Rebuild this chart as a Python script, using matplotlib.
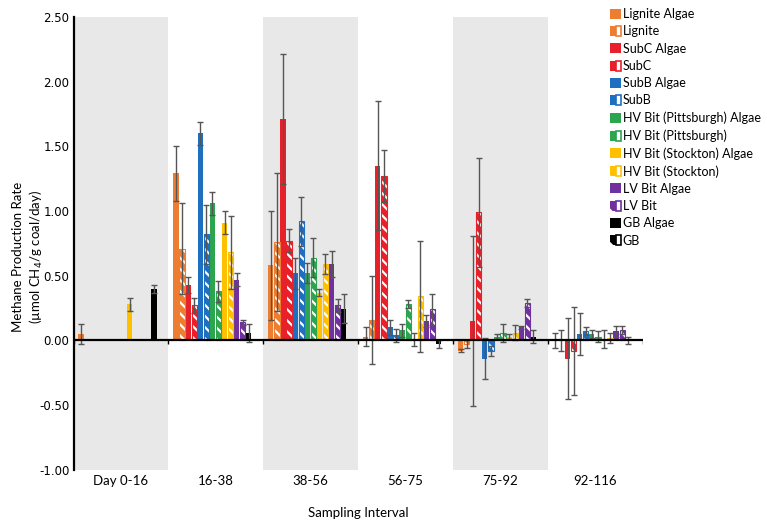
import numpy as np
import matplotlib
matplotlib.use("Agg")
import matplotlib.pyplot as plt
from matplotlib.patches import Patch
from matplotlib.legend_handler import HandlerTuple

plt.rcParams['font.family'] = ['Lato', 'DejaVu Sans']
plt.rcParams['hatch.linewidth'] = 1.6

nan = np.nan

# sampling intervals
intervals = ['Day 0-16', '16-38', '38-56', '56-75', '75-92', '92-116']

# series names (algae amended = solid, unamended = hatched)
series = ['Lignite Algae', 'Lignite', 'SubC Algae', 'SubC', 'SubB Algae', 'SubB',
          'HV Bit (Pittsburgh) Algae', 'HV Bit (Pittsburgh)',
          'HV Bit (Stockton) Algae', 'HV Bit (Stockton)',
          'LV Bit Algae', 'LV Bit', 'GB Algae', 'GB']

# methane production rate (umol CH4 / g coal / day)
lignite_algae = [0.05, 1.29, 0.58, 0.03, -0.08, 0.00]
lignite = [nan, 0.71, 0.76, 0.16, -0.03, 0.00]
subc_algae = [nan, 0.43, 1.71, 1.35, 0.15, -0.14]
subc = [nan, 0.27, 0.77, 1.27, 0.99, -0.08]
subb_algae = [nan, 1.60, 0.52, 0.10, -0.14, 0.05]
subb = [nan, 0.82, 0.92, 0.04, -0.08, 0.07]
hvp_algae = [nan, 1.06, 0.52, 0.08, 0.03, 0.05]
hvp = [nan, 0.38, 0.64, 0.28, 0.06, 0.03]
hvs_algae = [0.28, 0.91, 0.37, 0.01, 0.03, 0.01]
hvs = [nan, 0.68, 0.59, 0.34, 0.06, 0.02]
lv_algae = [nan, 0.47, 0.59, 0.15, 0.10, 0.07]
lv = [nan, 0.14, 0.27, 0.24, 0.29, 0.08]
gb_algae = [0.40, 0.06, 0.245, -0.03, 0.03, 0.00]
gb = [nan, nan, nan, nan, nan, nan]

# error bars
lignite_algae_err = [0.08, 0.21, 0.42, 0.07, 0.01, 0.06]
lignite_err = [nan, 0.35, 0.53, 0.34, 0.03, 0.08]
subc_algae_err = [nan, 0.06, 0.50, 0.50, 0.66, 0.31]
subc_err = [nan, 0.06, 0.09, 0.20, 0.42, 0.34]
subb_algae_err = [nan, 0.09, 0.12, 0.06, 0.16, 0.16]
subb_err = [nan, 0.23, 0.19, 0.05, 0.04, 0.03]
hvp_algae_err = [nan, 0.09, 0.08, 0.05, 0.02, 0.03]
hvp_err = [nan, 0.08, 0.15, 0.03, 0.07, 0.04]
hvs_algae_err = [0.05, 0.09, 0.03, 0.05, 0.02, 0.07]
hvs_err = [nan, 0.28, 0.08, 0.43, 0.06, 0.04]
lv_algae_err = [nan, 0.05, 0.10, 0.05, 0.01, 0.04]
lv_err = [nan, 0.02, 0.05, 0.12, 0.03, 0.03]
gb_algae_err = [0.03, 0.07, 0.11, 0.03, 0.05, 0.03]
gb_err = [nan, nan, nan, nan, nan, nan]

values = [lignite_algae, lignite, subc_algae, subc, subb_algae, subb,
          hvp_algae, hvp, hvs_algae, hvs, lv_algae, lv, gb_algae, gb]
errors = [lignite_algae_err, lignite_err, subc_algae_err, subc_err,
          subb_algae_err, subb_err, hvp_algae_err, hvp_err,
          hvs_algae_err, hvs_err, lv_algae_err, lv_err, gb_algae_err, gb_err]

colors = ['#ED7D31', '#E8202A', '#1F6FC0', '#2DA44E', '#FFC000', '#7030A0', '#000000']

fig = plt.figure(figsize=(7.67, 5.25), dpi=100)
ax = fig.add_axes([0.096, 0.105, 0.742, 0.863])

n = len(intervals)
x = np.arange(n)

# shaded intervals
for i in range(0, n, 2):
    ax.axvspan(i - 0.5, i + 0.5, color='#E8E8E8', lw=0, zorder=0)

pitch = 0.064
width = 0.056
start = -0.5 + 0.079
handles = []
for j, (name, vals, errs) in enumerate(zip(series, values, errors)):
    c = colors[j // 2]
    xs = x + start + j * pitch
    vals = np.array(vals, dtype=float)
    errs = np.array(errs, dtype=float)
    if j % 2 == 0:
        ax.bar(xs, vals, width, color=c, lw=0, zorder=2)
        handles.append(Patch(facecolor=c, lw=0))
    else:
        ax.bar(xs, vals, width, facecolor=c, edgecolor='white', hatch='\\\\\\', lw=0, zorder=2)
        ax.bar(xs, vals, width, fill=False, edgecolor=c, lw=0.8, zorder=3)
        handles.append((Patch(facecolor=c, edgecolor='white', hatch='\\', lw=0),
                        Patch(fill=False, edgecolor=c, lw=1.2)))
    ax.errorbar(xs, vals, yerr=errs, fmt='none', ecolor='#555555',
                elinewidth=1.0, capsize=2.5, capthick=1.0, zorder=4)

# zero line with boundary ticks
ax.axhline(0, color='black', lw=1.6, zorder=5)
ax.vlines(np.arange(n + 1) - 0.5, -0.03, 0, color='black', lw=1.0, zorder=5)

ax.set_xlim(-0.5, n - 0.5)
ax.set_ylim(-1.0, 2.5)
ax.set_yticks(np.arange(-1.0, 2.51, 0.5))
ax.set_yticklabels(['%.2f' % v for v in np.arange(-1.0, 2.51, 0.5)],
                   family='DejaVu Sans', fontsize=8.5)
ax.set_xticks(x)
ax.set_xticklabels(intervals, fontsize=9.5)
ax.tick_params(axis='x', length=0, pad=4)
ax.tick_params(axis='y', length=0, pad=3)

for s in ['top', 'right', 'bottom']:
    ax.spines[s].set_visible(False)
ax.spines['left'].set_linewidth(1.6)

ax.set_ylabel('Methane Production Rate\n(µmol CH$_4$/g coal/day)', fontsize=9.5, linespacing=1.3)
ax.yaxis.set_label_coords(-0.05, 0.47)
ax.set_xlabel('Sampling Interval', fontsize=9.5)
ax.xaxis.set_label_coords(0.5, -0.082)

fig.legend(handles, series, loc='upper left', bbox_to_anchor=(0.781, 1.006),
           frameon=False, fontsize=9, handlelength=0.85, handleheight=0.85,
           handletextpad=0.15, labelspacing=0.42,
           handler_map={tuple: HandlerTuple(ndivide=None, pad=0)})

fig.savefig('out.png', dpi=100)
